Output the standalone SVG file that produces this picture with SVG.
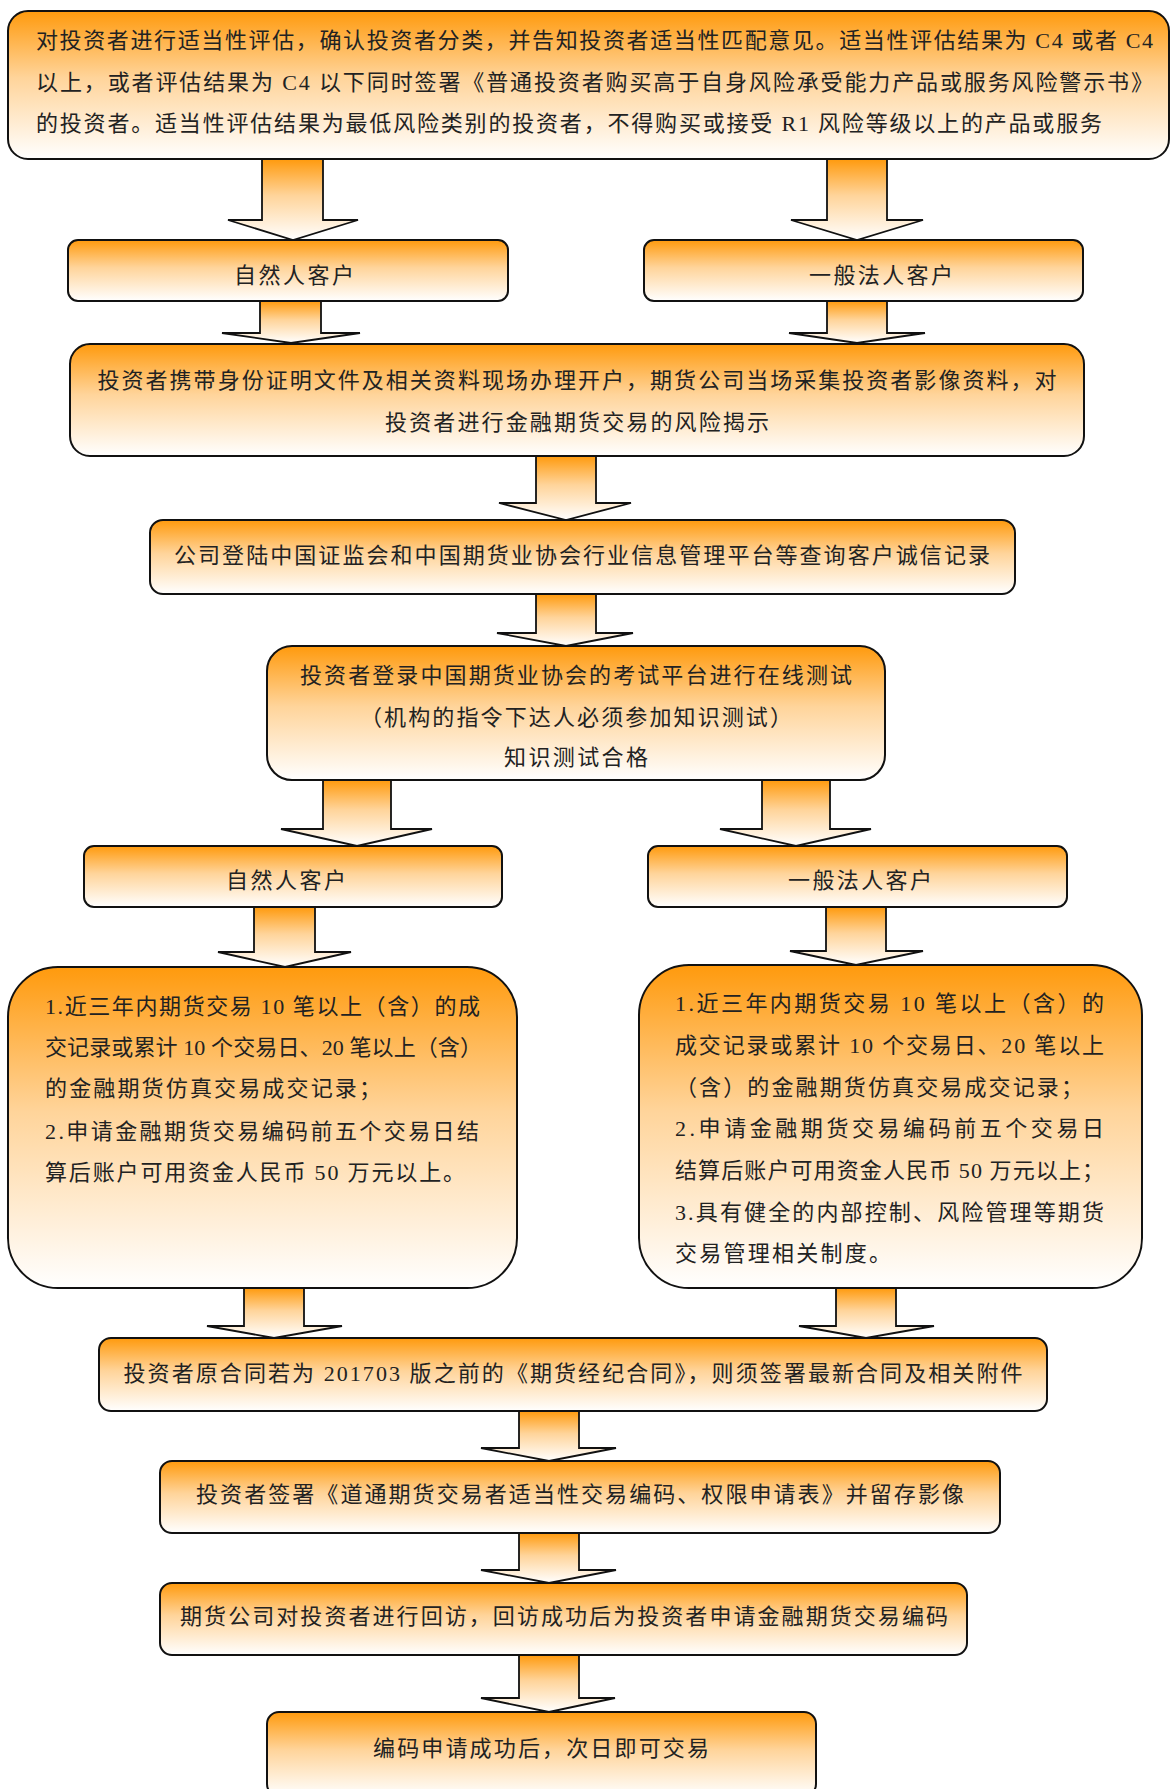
<svg xmlns="http://www.w3.org/2000/svg" width="1171" height="1789" viewBox="0 0 1171 1789">
<defs>
<linearGradient id="g" x1="0" y1="0" x2="0" y2="1">
<stop offset="0" stop-color="#FF9A0D"/>
<stop offset="0.45" stop-color="#FFD49A"/>
<stop offset="1" stop-color="#FFFFFF"/>
</linearGradient>
<style>
.box{fill:url(#g);stroke:#111;stroke-width:2}
.arr{fill:url(#g);stroke:#111;stroke-width:1.8;stroke-linejoin:miter}
text{font-family:"Liberation Serif","Noto Sans CJK SC",serif;font-size:22px;fill:#222}
.c{text-anchor:middle}
</style>
</defs>
<rect width="1171" height="1789" fill="#fff"/>
<g id="connectors">
<path class="arr" d="M262,159 L323,159 L323,220 L358,220 L293,240 L228,220 L262,220 Z"/>
<path class="arr" d="M827,159 L887,159 L887,220 L923,220 L857,240 L791,220 L827,220 Z"/>
<path class="arr" d="M260,301 L321,301 L321,333 L360,333 L291,343 L222,333 L260,333 Z"/>
<path class="arr" d="M827,301 L887,301 L887,333 L925,333 L857,343 L789,333 L827,333 Z"/>
<path class="arr" d="M536,456 L596,456 L596,503 L631,503 L566,520 L499,503 L536,503 Z"/>
<path class="arr" d="M536,594 L596,594 L596,633 L633,633 L566,646 L497,633 L536,633 Z"/>
<path class="arr" d="M323,780 L391,780 L391,829 L432,829 L357,846 L281,829 L323,829 Z"/>
<path class="arr" d="M762,780 L830,780 L830,829 L871,829 L796,846 L720,829 L762,829 Z"/>
<path class="arr" d="M254,907 L315,907 L315,952 L351,952 L285,967 L218,952 L254,952 Z"/>
<path class="arr" d="M826,907 L886,907 L886,951 L923,951 L856,965 L790,951 L826,951 Z"/>
<path class="arr" d="M244,1288 L304,1288 L304,1326 L342,1326 L274,1338 L207,1326 L244,1326 Z"/>
<path class="arr" d="M836,1288 L896,1288 L896,1326 L934,1326 L866,1338 L799,1326 L836,1326 Z"/>
<path class="arr" d="M519,1411 L579,1411 L579,1448 L616,1448 L549,1461 L481,1448 L519,1448 Z"/>
<path class="arr" d="M519,1533 L579,1533 L579,1570 L616,1570 L549,1583 L481,1570 L519,1570 Z"/>
<path class="arr" d="M519,1655 L579,1655 L579,1698 L615,1698 L549,1712 L481,1698 L519,1698 Z"/>
</g>
<g id="n1">
<rect class="box" x="8" y="11" width="1161" height="148" rx="20"/>
<text x="36" y="48" textLength="1117" lengthAdjust="spacing">对投资者进行适当性评估，确认投资者分类，并告知投资者适当性匹配意见。适当性评估结果为 C4 或者 C4</text>
<text x="36" y="90" textLength="1117" lengthAdjust="spacing">以上，或者评估结果为 C4 以下同时签署《普通投资者购买高于自身风险承受能力产品或服务风险警示书》</text>
<text x="36" y="131" textLength="1066" lengthAdjust="spacing">的投资者。适当性评估结果为最低风险类别的投资者，不得购买或接受 R1 风险等级以上的产品或服务</text>
</g>
<g id="n2">
<rect class="box" x="68" y="240" width="440" height="61" rx="10"/>
<text class="c" x="294" y="283" textLength="120" lengthAdjust="spacing">自然人客户</text>
</g>
<g id="n3">
<rect class="box" x="644" y="240" width="439" height="61" rx="10"/>
<text class="c" x="881" y="283" textLength="144" lengthAdjust="spacing">一般法人客户</text>
</g>
<g id="n4">
<rect class="box" x="70" y="344" width="1014" height="112" rx="20"/>
<text class="c" x="577" y="388" textLength="959" lengthAdjust="spacing">投资者携带身份证明文件及相关资料现场办理开户，期货公司当场采集投资者影像资料，对</text>
<text class="c" x="577" y="430" textLength="384" lengthAdjust="spacing">投资者进行金融期货交易的风险揭示</text>
</g>
<g id="n5">
<rect class="box" x="150" y="520" width="865" height="74" rx="13"/>
<text class="c" x="582" y="563" textLength="816" lengthAdjust="spacing">公司登陆中国证监会和中国期货业协会行业信息管理平台等查询客户诚信记录</text>
</g>
<g id="n6">
<rect class="box" x="267" y="646" width="618" height="134" rx="25"/>
<text class="c" x="576" y="683" textLength="552" lengthAdjust="spacing">投资者登录中国期货业协会的考试平台进行在线测试</text>
<text class="c" x="576" y="725" textLength="432" lengthAdjust="spacing">（机构的指令下达人必须参加知识测试）</text>
<text class="c" x="576" y="765" textLength="144" lengthAdjust="spacing">知识测试合格</text>
</g>
<g id="n7">
<rect class="box" x="84" y="846" width="418" height="61" rx="10"/>
<text class="c" x="286" y="888" textLength="120" lengthAdjust="spacing">自然人客户</text>
</g>
<g id="n8">
<rect class="box" x="648" y="846" width="419" height="61" rx="10"/>
<text class="c" x="860" y="888" textLength="144" lengthAdjust="spacing">一般法人客户</text>
</g>
<g id="n9">
<rect class="box" x="8" y="967" width="509" height="321" rx="50"/>
<text x="45" y="1014" textLength="435" lengthAdjust="spacing">1.近三年内期货交易 10 笔以上（含）的成</text>
<text x="45" y="1055" textLength="437" lengthAdjust="spacing">交记录或累计 10 个交易日、20 笔以上（含）</text>
<text x="45" y="1096" textLength="336" lengthAdjust="spacing">的金融期货仿真交易成交记录；</text>
<text x="45" y="1139" textLength="434" lengthAdjust="spacing">2.申请金融期货交易编码前五个交易日结</text>
<text x="45" y="1180" textLength="420" lengthAdjust="spacing">算后账户可用资金人民币 50 万元以上。</text>
</g>
<g id="n10">
<rect class="box" x="639" y="965" width="503" height="323" rx="50"/>
<text x="675" y="1011" textLength="429" lengthAdjust="spacing">1.近三年内期货交易 10 笔以上（含）的</text>
<text x="675" y="1053" textLength="429" lengthAdjust="spacing">成交记录或累计 10 个交易日、20 笔以上</text>
<text x="675" y="1095" textLength="408" lengthAdjust="spacing">（含）的金融期货仿真交易成交记录；</text>
<text x="675" y="1136" textLength="429" lengthAdjust="spacing">2.申请金融期货交易编码前五个交易日</text>
<text x="675" y="1178" textLength="429" lengthAdjust="spacing">结算后账户可用资金人民币 50 万元以上；</text>
<text x="675" y="1220" textLength="429" lengthAdjust="spacing">3.具有健全的内部控制、风险管理等期货</text>
<text x="675" y="1261" textLength="216" lengthAdjust="spacing">交易管理相关制度。</text>
</g>
<g id="n11">
<rect class="box" x="99" y="1338" width="948" height="73" rx="12"/>
<text class="c" x="573" y="1381" textLength="899" lengthAdjust="spacing">投资者原合同若为 201703 版之前的《期货经纪合同》，则须签署最新合同及相关附件</text>
</g>
<g id="n12">
<rect class="box" x="160" y="1461" width="840" height="72" rx="12"/>
<text class="c" x="580" y="1502" textLength="768" lengthAdjust="spacing">投资者签署《道通期货交易者适当性交易编码、权限申请表》并留存影像</text>
</g>
<g id="n13">
<rect class="box" x="160" y="1583" width="807" height="72" rx="12"/>
<text class="c" x="564" y="1624" textLength="768" lengthAdjust="spacing">期货公司对投资者进行回访，回访成功后为投资者申请金融期货交易编码</text>
</g>
<g id="n14">
<rect class="box" x="267" y="1712" width="549" height="84" rx="12"/>
<text class="c" x="541" y="1756" textLength="336" lengthAdjust="spacing">编码申请成功后，次日即可交易</text>
</g>
</svg>
